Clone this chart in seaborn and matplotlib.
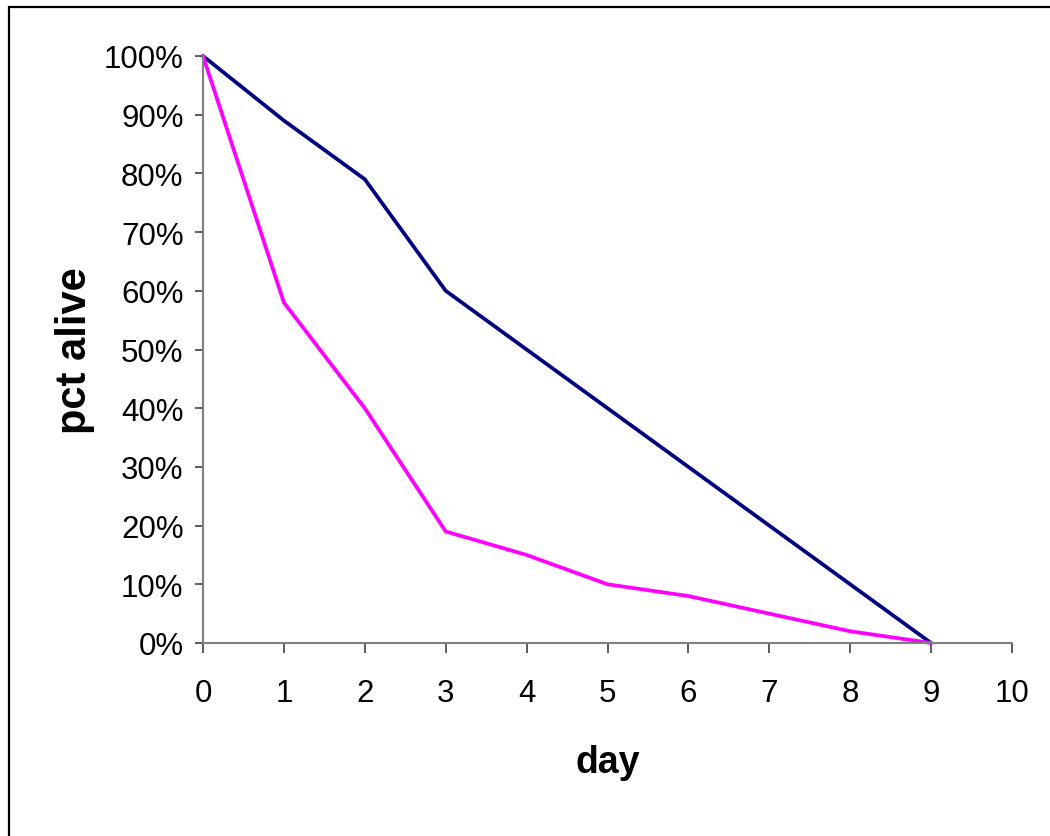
import matplotlib
matplotlib.use("Agg")
import matplotlib.pyplot as plt
import seaborn as sns
import pandas as pd
from matplotlib.ticker import PercentFormatter
from matplotlib.patches import Rectangle

days = [0, 1, 2, 3, 4, 5, 6, 7, 8, 9]
series_a = [1.00, 0.89, 0.79, 0.60, 0.50, 0.40, 0.30, 0.20, 0.10, 0.00]
series_b = [1.00, 0.58, 0.40, 0.19, 0.15, 0.10, 0.08, 0.05, 0.02, 0.00]
series_names = ["A", "B"]
series_colors = ["#000080", "#FF00FF"]

df = pd.DataFrame({
    "day": days * 2,
    "pct": series_a + series_b,
    "series": [series_names[0]] * len(days) + [series_names[1]] * len(days),
})

sns.set_theme(style="white")
plt.rcParams["font.family"] = ["Liberation Sans", "DejaVu Sans"]
plt.rcParams["text.color"] = "black"
plt.rcParams["axes.labelcolor"] = "black"
plt.rcParams["xtick.color"] = "black"
plt.rcParams["ytick.color"] = "black"

fig = plt.figure(figsize=(10.5, 8.37), dpi=100)
ax = fig.add_axes([203 / 1050, 1 - 644 / 837, (1012 - 203) / 1050, (644 - 57) / 837])

sns.lineplot(data=df, x="day", y="pct", hue="series", palette=series_colors,
             linewidth=2.7, legend=False, ax=ax, clip_on=False)

ax.set_xlim(0, 10)
ax.set_ylim(0, 1)
ax.set_xticks(range(0, 11))
ax.set_yticks([i / 10 for i in range(11)])
ax.yaxis.set_major_formatter(PercentFormatter(1.0, decimals=0))

for s in ["top", "right"]:
    ax.spines[s].set_visible(False)
for s in ["left", "bottom"]:
    ax.spines[s].set_color("#808080")
    ax.spines[s].set_linewidth(1.5)

ax.tick_params(axis="y", direction="out", length=6, width=1.2, color="#404040",
               labelcolor="black", labelsize=22.5, pad=8, left=True)
ax.tick_params(axis="x", direction="out", length=7, width=1.2, color="#404040",
               labelcolor="black", labelsize=22.5, pad=18, bottom=True)

ax.set_xlabel("day", fontsize=27, fontweight="bold", labelpad=26, color="black")
ax.set_ylabel("pct alive", fontsize=30, fontweight="bold", labelpad=6, color="black")

fig.patches.append(Rectangle((9 / 1050, -0.1), 1.2, 1.1 - 8 / 837,
                             transform=fig.transFigure, fill=False,
                             edgecolor="black", linewidth=1.6))

fig.savefig("out.png", dpi=100)
